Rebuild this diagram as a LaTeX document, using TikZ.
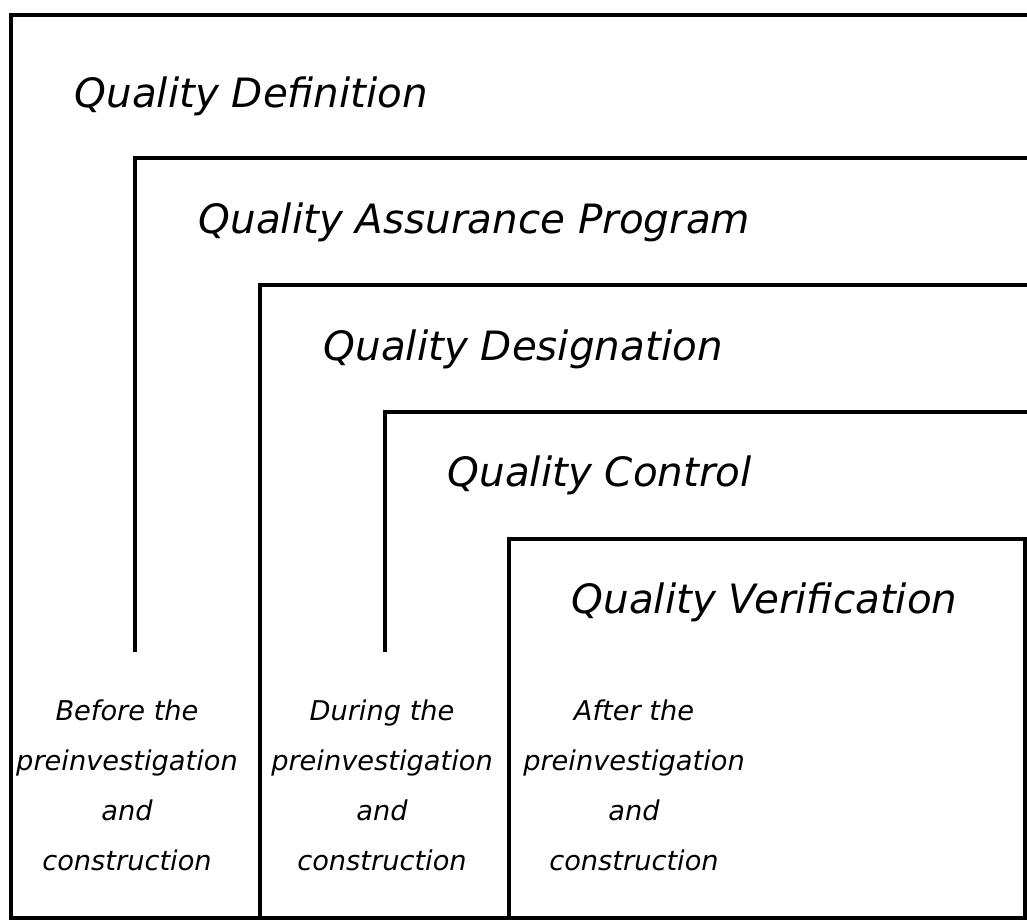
\documentclass[tikz,border=0pt]{standalone}
\usepackage{fontspec}
\setmainfont{DejaVu Sans}
\begin{document}
\begin{tikzpicture}[x=0.02cm, y=-0.02cm, line width=1.9pt,
  title/.style={anchor=base west, inner sep=0pt, font=\fontsize{23}{28}\selectfont\itshape},
  phase/.style={align=center, inner sep=0pt, font=\fontsize{15.5}{28.4}\selectfont\itshape}]
  \useasboundingbox (0,0) rectangle (1027,922);
  % nested frames, all open to the right
  \draw (1027,15)  -| (11,918) -- (1027,918);
  \draw (1027,158) -| (135,652);
  \draw (1027,285) -| (260,918);
  \draw (1027,412) -| (385,652);
  \draw (1027,539) -| (509,918);
  \draw (1025,539) -- (1025,918);
  % level titles
  \node[title] (defn)  at (73,108)  {Quality Definition};
  \node[title] (qap)   at (197,234) {Quality Assurance Program};
  \node[title] (desig) at (322,360) {Quality Designation};
  \node[title] (ctrl)  at (446,486) {Quality Control};
  \node[title] (verif) at (570,613) {Quality Verification};
  % phases along the bottom
  \node[phase] (before) at (127,785) {Before the\\preinvestigation\\and\\construction};
  \node[phase] (during) at (382,785) {During the\\preinvestigation\\and\\construction};
  \node[phase] (after)  at (634,785) {After the\\preinvestigation\\and\\construction};
\end{tikzpicture}
\end{document}
